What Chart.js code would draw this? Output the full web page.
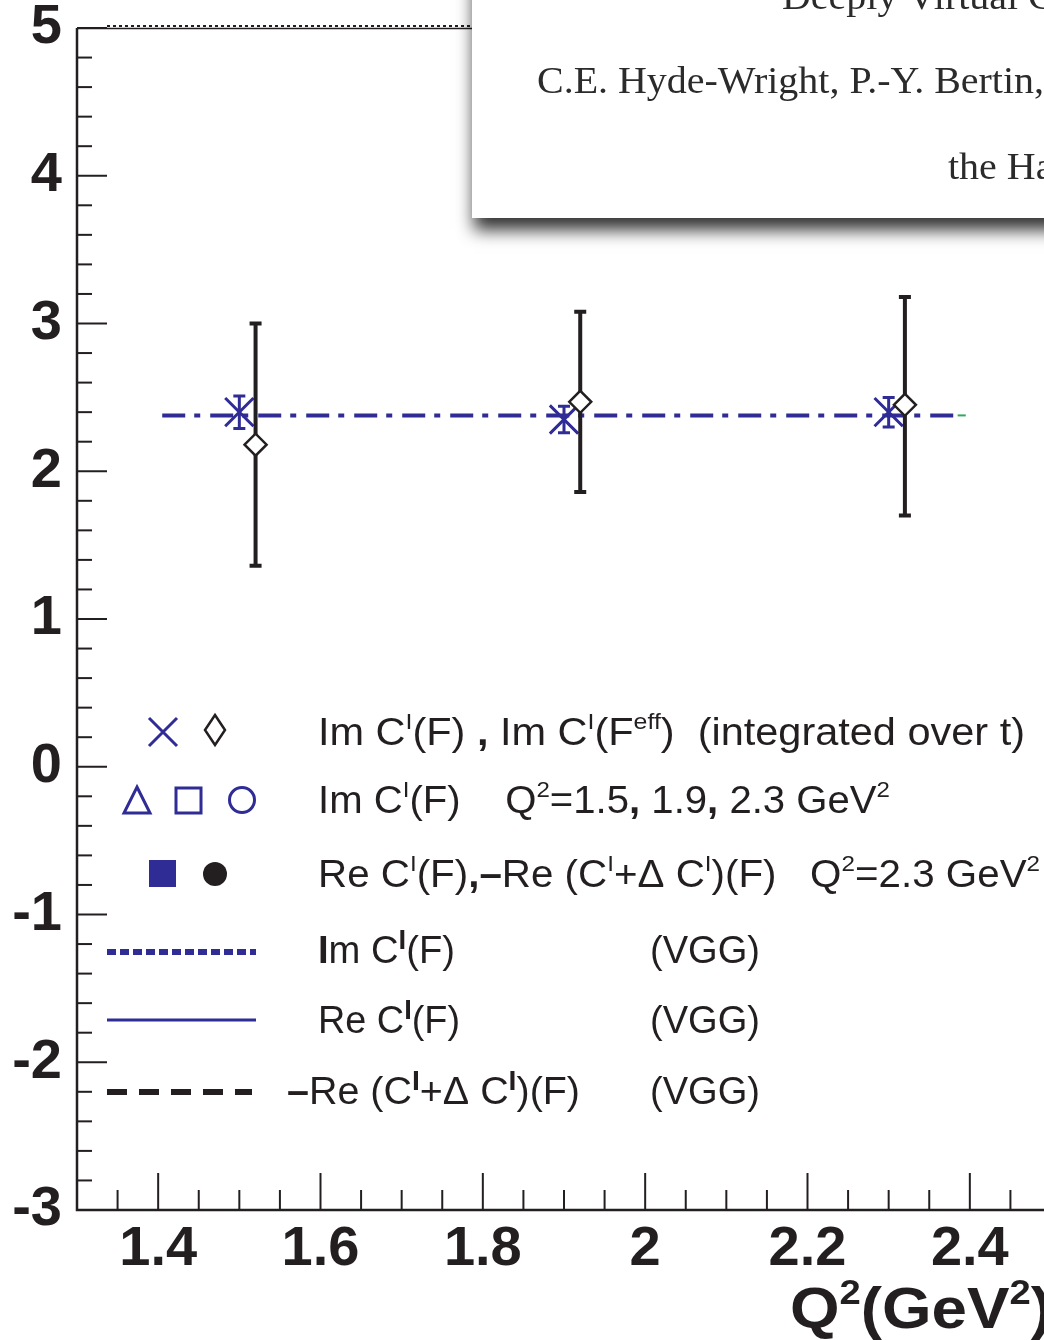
<!DOCTYPE html>
<html lang="en">
<head>
<meta charset="UTF-8">
<title>Im C(F) vs Q2</title>
<style>
  html, body { margin: 0; padding: 0; background: #fff; overflow: hidden; }
  #wrap { position: relative; width: 1044px; height: 1340px; overflow: hidden; }
  canvas { position: absolute; left: 0; top: 0; }
</style>
</head>
<body>
<div id="wrap"><canvas id="chart" width="1051" height="1340"></canvas></div>
<script src="https://cdn.jsdelivr.net/npm/chart.js"></script>
<script>
// values
const crossQ2 = [1.5, 1.9, 2.3];
const crossVal = [2.40, 2.35, 2.40];
const crossErr = [0.11, 0.09, 0.10];

const diamQ2 = [1.52, 1.92, 2.32];
const diamVal = [2.18, 2.47, 2.45];
const diamLow = [1.36, 1.86, 1.70];
const diamHigh = [3.00, 3.08, 3.18];

const fitQ2 = [1.405, 2.385];
const fitVal = [2.378, 2.378];
const tailQ2 = [2.385, 2.395];
const tailVal = [2.378, 2.378];

const xLabels = [1.4, 1.6, 1.8, 2.0, 2.2, 2.4];
const yLabels = [-3, -2, -1, 0, 1, 2, 3, 4, 5];

const BLUE = '#2f2c96';
const INK = '#231f20';
const SANS = '"Liberation Sans", Arial, sans-serif';
const SERIF = '"Liberation Serif", "DejaVu Serif", serif';

const zip = (xs, ys) => xs.map((x, i) => ({ x: x, y: ys[i] }));

// rich text: parts = [{t, sup, big, bold}], scaled to a target width
function drawRich(ctx, parts, x, y, size, targetW, family, baseBold) {
    const fontOf = p => {
        const s = p.sup ? size * (p.big ? 0.72 : 0.6) : size;
        const w = (p.bold || baseBold) ? 'bold ' : '';
        return w + s + 'px ' + family;
    };
    let total = 0;
    parts.forEach(p => { ctx.font = fontOf(p); total += ctx.measureText(p.t).width; });
    const k = targetW ? targetW / total : 1;
    ctx.save();
    ctx.translate(x, y);
    ctx.scale(k, 1);
    ctx.textBaseline = 'alphabetic';
    ctx.textAlign = 'left';
    let cx = 0;
    parts.forEach(p => {
        ctx.font = fontOf(p);
        const dy = p.sup ? -size * (p.big ? 0.36 : 0.42) : 0;
        ctx.fillText(p.t, cx, dy);
        cx += ctx.measureText(p.t).width;
    });
    ctx.restore();
}

const frame = {
    id: 'frame',
    beforeDatasetsDraw(chart) {
        const ctx = chart.ctx;
        const a = chart.chartArea;
        const xs = chart.scales.x, ys = chart.scales.y;
        ctx.save();
        ctx.strokeStyle = INK;
        ctx.lineWidth = 2.5;
        ctx.beginPath();
        ctx.moveTo(a.left, a.top);
        ctx.lineTo(a.left, a.bottom);
        ctx.lineTo(a.right, a.bottom);
        ctx.stroke();
        // top edge: thin line with dotted row
        ctx.lineWidth = 1.5;
        ctx.beginPath();
        ctx.moveTo(a.left, a.top + 0.5);
        ctx.lineTo(a.right, a.top + 0.5);
        ctx.stroke();
        ctx.setLineDash([3, 3]);
        ctx.lineWidth = 2;
        ctx.beginPath();
        ctx.moveTo(a.left + 30, a.top - 2);
        ctx.lineTo(a.right, a.top - 2);
        ctx.stroke();
        ctx.setLineDash([]);

        // y ticks, inward
        ctx.lineWidth = 2;
        for (let i = 0; i <= 40; i++) {
            const v = -3 + i * 0.2;
            const py = ys.getPixelForValue(v);
            const len = i % 5 === 0 ? 30 : 15;
            ctx.beginPath();
            ctx.moveTo(a.left, py);
            ctx.lineTo(a.left + len, py);
            ctx.stroke();
        }
        // x ticks, inward
        for (let i = 1; i < 24; i++) {
            const v = 1.3 + i * 0.05;
            const px = xs.getPixelForValue(v);
            const major = xLabels.some(m => Math.abs(m - v) < 1e-6);
            ctx.beginPath();
            ctx.moveTo(px, a.bottom);
            ctx.lineTo(px, a.bottom - (major ? 37 : 20));
            ctx.stroke();
        }
        ctx.restore();
    }
};

const errorBars = {
    id: 'errorBars',
    afterDatasetDraw(chart, args) {
        if (args.index !== 1) return;
        const ctx = chart.ctx, xs = chart.scales.x, ys = chart.scales.y;
        ctx.save();
        ctx.strokeStyle = BLUE;
        ctx.lineWidth = 3;
        crossQ2.forEach((q, i) => {
            const px = xs.getPixelForValue(q);
            const t = ys.getPixelForValue(crossVal[i] + crossErr[i]);
            const b = ys.getPixelForValue(crossVal[i] - crossErr[i]);
            ctx.beginPath();
            ctx.moveTo(px, t); ctx.lineTo(px, b);
            ctx.moveTo(px - 6, t); ctx.lineTo(px + 6, t);
            ctx.moveTo(px - 6, b); ctx.lineTo(px + 6, b);
            ctx.stroke();
        });
        ctx.restore();
    },
    beforeDatasetDraw(chart, args) {
        if (args.index !== 0) return;
        const ctx = chart.ctx, xs = chart.scales.x, ys = chart.scales.y;
        ctx.save();
        ctx.strokeStyle = INK;
        ctx.lineWidth = 4;
        diamQ2.forEach((q, i) => {
            const px = xs.getPixelForValue(q);
            const t = ys.getPixelForValue(diamHigh[i]);
            const b = ys.getPixelForValue(diamLow[i]);
            ctx.beginPath();
            ctx.moveTo(px, t); ctx.lineTo(px, b);
            ctx.moveTo(px - 6, t); ctx.lineTo(px + 6, t);
            ctx.moveTo(px - 6, b); ctx.lineTo(px + 6, b);
            ctx.stroke();
        });
        ctx.restore();
    }
};

const legendBox = {
    id: 'legendBox',
    afterDraw(chart) {
        const ctx = chart.ctx;
        ctx.save();
        ctx.lineWidth = 3;
        // symbols
        ctx.strokeStyle = BLUE;
        ctx.beginPath();
        ctx.moveTo(149, 718); ctx.lineTo(177, 746);
        ctx.moveTo(177, 718); ctx.lineTo(149, 746);
        ctx.stroke();
        ctx.strokeStyle = INK;
        ctx.lineWidth = 2.5;
        ctx.beginPath();
        ctx.moveTo(215, 715); ctx.lineTo(225, 730); ctx.lineTo(215, 745); ctx.lineTo(205, 730); ctx.closePath();
        ctx.stroke();
        ctx.strokeStyle = BLUE;
        ctx.lineWidth = 3;
        ctx.beginPath();
        ctx.moveTo(137, 787); ctx.lineTo(150, 813); ctx.lineTo(124, 813); ctx.closePath();
        ctx.stroke();
        ctx.strokeRect(176, 788, 25, 25);
        ctx.beginPath();
        ctx.arc(242, 800, 12.5, 0, Math.PI * 2);
        ctx.stroke();
        ctx.fillStyle = BLUE;
        ctx.fillRect(149, 860, 27, 27);
        ctx.fillStyle = INK;
        ctx.beginPath();
        ctx.arc(215, 874, 12, 0, Math.PI * 2);
        ctx.fill();
        // line samples
        ctx.strokeStyle = BLUE;
        ctx.lineWidth = 6;
        ctx.setLineDash([9, 4]);
        ctx.beginPath(); ctx.moveTo(107, 952); ctx.lineTo(256, 952); ctx.stroke();
        ctx.setLineDash([]);
        ctx.lineWidth = 3;
        ctx.beginPath(); ctx.moveTo(107, 1020); ctx.lineTo(256, 1020); ctx.stroke();
        ctx.strokeStyle = INK;
        ctx.lineWidth = 6;
        ctx.setLineDash([20, 12]);
        ctx.beginPath(); ctx.moveTo(107, 1092); ctx.lineTo(252, 1092); ctx.stroke();
        ctx.setLineDash([]);

        // texts
        ctx.fillStyle = INK;
        const S = 38;
        drawRich(ctx, [
            { t: 'Im C' }, { t: 'I', sup: true }, { t: '(F)' }, { t: ' , ', bold: true },
            { t: 'Im C' }, { t: 'I', sup: true }, { t: '(F' }, { t: 'eff', sup: true }, { t: ')  (integrated over t)' }
        ], 318, 745, S, 707, SANS);
        drawRich(ctx, [
            { t: 'Im C' }, { t: 'I', sup: true }, { t: '(F)    Q' }, { t: '2', sup: true },
            { t: '=1.5' }, { t: ',', bold: true }, { t: ' 1.9' }, { t: ',', bold: true }, { t: ' 2.3 GeV' }, { t: '2', sup: true }
        ], 318, 813, S, 572, SANS);
        drawRich(ctx, [
            { t: 'Re C' }, { t: 'I', sup: true }, { t: '(F)' }, { t: ',', bold: true }, { t: '\u2013', bold: true },
            { t: 'Re (C' }, { t: 'I', sup: true }, { t: '+\u0394 C' }, { t: 'I', sup: true }, { t: ')(F)   Q' },
            { t: '2', sup: true }, { t: '=2.3 GeV' }, { t: '2', sup: true }
        ], 318, 887, S, 722, SANS);
        drawRich(ctx, [
            { t: 'I', bold: true }, { t: 'm C' }, { t: 'I', sup: true, big: true, bold: true }, { t: '(F)' }
        ], 318, 963, S, 137, SANS);
        drawRich(ctx, [
            { t: 'Re C' }, { t: 'I', sup: true, big: true, bold: true }, { t: '(F)' }
        ], 318, 1033, S, 142, SANS);
        drawRich(ctx, [
            { t: '\u2013', bold: true }, { t: 'Re (C' }, { t: 'I', sup: true, big: true, bold: true },
            { t: '+\u0394 C' }, { t: 'I', sup: true, big: true, bold: true }, { t: ')(F)' }
        ], 287, 1104, S, 293, SANS);
        [963, 1033, 1104].forEach(by => drawRich(ctx, [{ t: '(VGG)' }], 650, by, S, 110, SANS));

        // axis title
        drawRich(ctx, [
            { t: 'Q' }, { t: '2', sup: true }, { t: '(GeV' }, { t: '2', sup: true }, { t: ')' }
        ], 790, 1328, 58, 262, SANS, true);
        ctx.restore();
    }
};

const paper = {
    id: 'paper',
    afterDraw(chart) {
        const ctx = chart.ctx;
        ctx.save();
        ctx.shadowColor = 'rgba(0,0,0,0.8)';
        ctx.shadowBlur = 16;
        ctx.shadowOffsetX = 2;
        ctx.shadowOffsetY = 12;
        ctx.fillStyle = '#fff';
        ctx.fillRect(472, -40, 640, 258);
        ctx.restore();
        ctx.save();
        ctx.fillStyle = '#2b2b2b';
        ctx.font = '38px ' + SERIF;
        const k = 507 / ctx.measureText('C.E. Hyde-Wright, P.-Y. Bertin,').width;
        const line = (txt, x, y) => {
            ctx.save(); ctx.translate(x, y); ctx.scale(k, 1); ctx.fillText(txt, 0, 0); ctx.restore();
        };
        line('Deeply Virtual C', 782, 9);
        line('C.E. Hyde-Wright, P.-Y. Bertin,', 537, 93);
        line('the Ha', 948, 179);
        ctx.restore();
    }
};

const tickFont = { family: SANS, weight: 'bold', size: 56, lineHeight: 1 };

// keep the plot frame where the figure has it
const noPad = s => { s.paddingTop = 0; s.paddingBottom = 0; s.paddingLeft = 0; s.paddingRight = 0; };

new Chart(document.getElementById('chart'), {
    type: 'scatter',
    data: {
        datasets: [
            {
                label: 'Im C(F eff)',
                data: zip(diamQ2, diamVal),
                pointStyle: 'rectRot',
                pointRadius: 11,
                backgroundColor: '#fff',
                borderColor: INK,
                borderWidth: 2.5
            },
            {
                label: 'Im C(F)',
                data: zip(crossQ2, crossVal),
                pointStyle: 'crossRot',
                pointRadius: 20,
                borderColor: BLUE,
                backgroundColor: BLUE,
                borderWidth: 3
            },
            {
                label: 'fit',
                type: 'line',
                data: zip(fitQ2, fitVal),
                borderColor: BLUE,
                borderWidth: 4,
                borderDash: [23, 9, 6, 10],
                pointRadius: 0,
                fill: false
            },
            {
                label: 'tail',
                type: 'line',
                data: zip(tailQ2, tailVal),
                borderColor: '#2fa860',
                borderWidth: 2,
                pointRadius: 0,
                fill: false
            }
        ]
    },
    options: {
        responsive: false,
        animation: false,
        events: [],
        layout: { autoPadding: false, padding: { top: 28, right: 0, left: 0, bottom: 0 } },
        plugins: { legend: { display: false }, tooltip: { enabled: false } },
        scales: {
            x: {
                type: 'linear',
                min: 1.3,
                max: 2.5,
                grid: { display: false, drawTicks: false },
                border: { display: false },
                afterBuildTicks: s => { s.ticks = xLabels.map(v => ({ value: v })); },
                afterFit: s => { s.height = 130; noPad(s); },
                ticks: {
                    font: tickFont,
                    color: INK,
                    padding: 12,
                    maxRotation: 0,
                    callback: v => String(+Number(v).toFixed(1))
                }
            },
            y: {
                type: 'linear',
                min: -3,
                max: 5,
                grid: { display: false, drawTicks: false },
                border: { display: false },
                afterBuildTicks: s => { s.ticks = yLabels.map(v => ({ value: v })); },
                afterFit: s => { s.width = 77; noPad(s); },
                ticks: {
                    font: tickFont,
                    color: INK,
                    padding: 15,
                    callback: v => String(v)
                }
            }
        }
    },
    plugins: [frame, errorBars, legendBox, paper]
});
</script>
</body>
</html>
